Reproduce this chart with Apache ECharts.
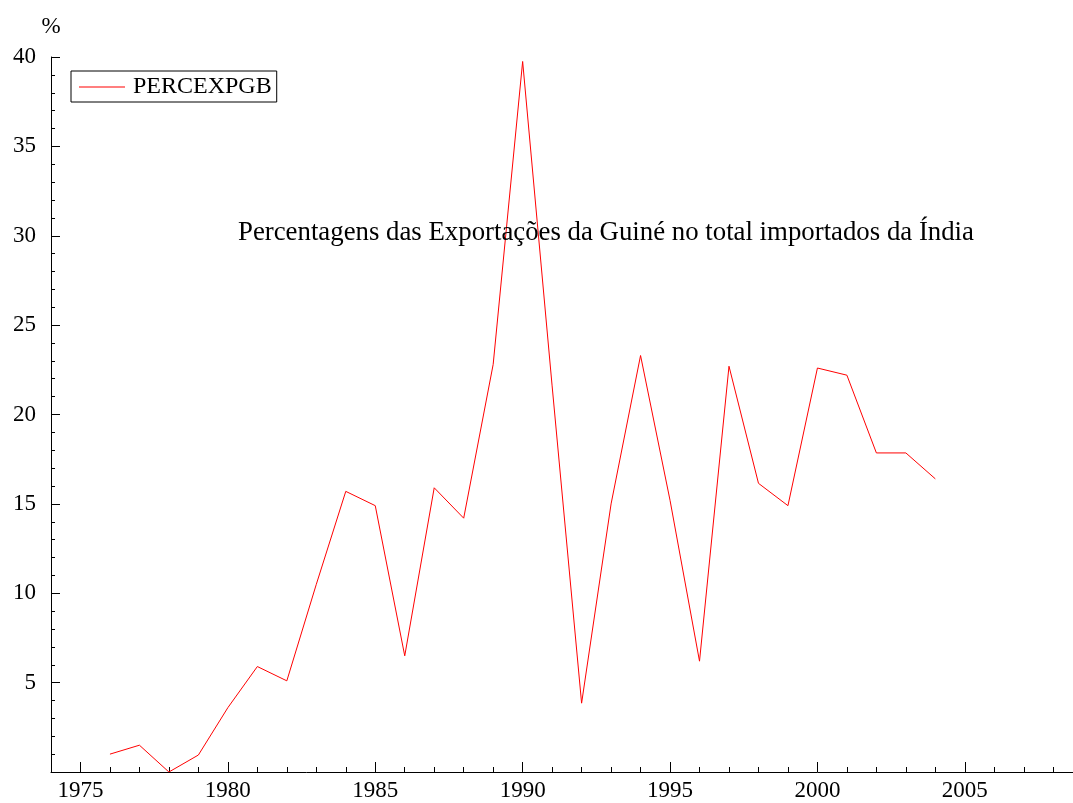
<!DOCTYPE html>
<html>
<head>
<meta charset="utf-8">
<script src="https://cdn.jsdelivr.net/npm/echarts@6/dist/echarts.min.js"></script>
<style>
  html, body { margin: 0; padding: 0; background: #fff; }
  #chart { width: 1073px; height: 803px; }
</style>
</head>
<body>
<div id="chart"></div>
<script>
// data
const years = [1976, 1977, 1978, 1979, 1980, 1981, 1982, 1983, 1984, 1985,
  1986, 1987, 1988, 1989, 1990, 1991, 1992, 1993, 1994, 1995,
  1996, 1997, 1998, 1999, 2000, 2001, 2002, 2003, 2004];
const percExpGB = [1.0, 1.5, 0.0, 0.95, 3.6, 5.9, 5.1, 10.5, 15.7, 14.9,
  6.5, 15.9, 14.2, 22.8, 39.75, 21.6, 3.85, 15.0, 23.3, 15.2,
  6.2, 22.7, 16.15, 14.9, 22.6, 22.2, 17.85, 17.85, 16.4];

const xMajorTicks = [1975, 1980, 1985, 1990, 1995, 2000, 2005];
const xMinorTicks = [];
for (let y = 1974; y <= 2008; y++) xMinorTicks.push(y);
const yLabels = [5, 10, 15, 20, 25, 30, 35, 40];

const FONT = 'Liberation Serif';

var dom = document.getElementById('chart');
var myChart = echarts.init(dom, null, { renderer: 'canvas' });

var option = {
  animation: false,
  backgroundColor: '#fff',
  title: {
    text: 'Percentagens das Exportações da Guiné no total importados da Índia',
    left: 233,
    top: 214,
    textStyle: { fontFamily: FONT, fontSize: 26.8, fontWeight: 'normal', color: '#000' }
  },
  legend: {
    left: 71,
    top: 71,
    padding: [4, 5, 3, 8],
    itemGap: 0,
    icon: 'rect',
    itemWidth: 46,
    itemHeight: 1,
    borderColor: '#000',
    borderWidth: 1,
    textStyle: { fontFamily: FONT, fontSize: 24, color: '#000', padding: [0, 0, 0, 3] }
  },
  grid: {
    left: 51,
    right: 0,
    top: 57,
    bottom: 31
  },
  xAxis: [{
    type: 'value',
    min: 1974,
    max: 2008.67,
    axisLine: { lineStyle: { color: '#000', width: 1 } },
    axisTick: {
      inside: true, length: 10, customValues: xMajorTicks,
      lineStyle: { color: '#000', width: 1 }
    },
    axisLabel: {
      customValues: xMajorTicks, margin: 7,
      formatter: v => String(v),
      fontFamily: FONT, fontSize: 23, color: '#000'
    },
    splitLine: { show: false }
  }, {
    type: 'value',
    position: 'bottom',
    min: 1974,
    max: 2008.67,
    axisLine: { show: false },
    axisTick: {
      inside: true, length: 5, customValues: xMinorTicks,
      lineStyle: { color: '#000', width: 1 }
    },
    axisLabel: { show: false },
    splitLine: { show: false }
  }],
  yAxis: {
    type: 'value',
    min: 0,
    max: 40,
    interval: 5,
    name: '%',
    nameLocation: 'end',
    nameGap: 19,
    nameTextStyle: { fontFamily: FONT, fontSize: 23, color: '#000', align: 'center' },
    axisLine: { show: true, lineStyle: { color: '#000', width: 1 } },
    axisTick: { show: true, inside: true, length: 9, lineStyle: { color: '#000' } },
    minorTick: { show: true, splitNumber: 5, length: 4, lineStyle: { color: '#000' } },
    axisLabel: {
      customValues: yLabels, margin: 15,
      fontFamily: FONT, fontSize: 23, color: '#000'
    },
    splitLine: { show: false }
  },
  series: [{
    name: 'PERCEXPGB',
    type: 'line',
    xAxisIndex: 0,
    symbol: 'none',
    lineStyle: { color: '#ff0000', width: 1 },
    itemStyle: { color: '#ff0000' },
    data: years.map((y, i) => [y, percExpGB[i]])
  }]
};
option && myChart.setOption(option);
</script>
</body>
</html>
